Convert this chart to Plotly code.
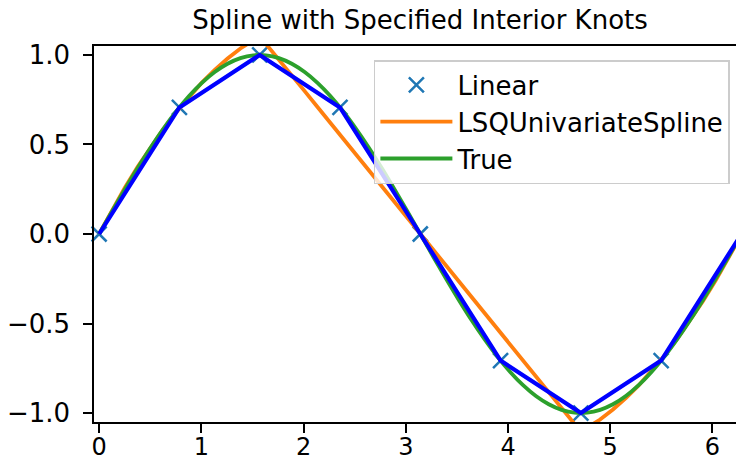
import plotly.graph_objects as go

# Sample points (linear interpolation)
x_pts = [0.0, 0.7854, 1.5708, 2.3562, 3.1416, 3.9270, 4.7124, 5.4978, 6.2832]
y_pts = [0.0, 0.7071, 1.0, 0.7071, 0.0, -0.7071, -1.0, -0.7071, 0.0]

# Fine grid for the smooth curves
x_fine = [0.0, 0.12566, 0.25133, 0.37699, 0.50265, 0.62832, 0.75398, 0.87965,
          1.00531, 1.13097, 1.25664, 1.38230, 1.50796, 1.63363, 1.75929, 1.88496,
          2.01062, 2.13628, 2.26195, 2.38761, 2.51327, 2.63894, 2.76460, 2.89027,
          3.01593, 3.14159, 3.26726, 3.39292, 3.51858, 3.64425, 3.76991, 3.89557,
          4.02124, 4.14690, 4.27257, 4.39823, 4.52389, 4.64956, 4.77522, 4.90088,
          5.02655, 5.15221, 5.27788, 5.40354, 5.52920, 5.65487, 5.78053, 5.90619,
          6.03186, 6.15752, 6.22035]

y_lsq = [0.0010, 0.13329, 0.25795, 0.37497, 0.48435, 0.58610, 0.68021, 0.76669,
         0.84553, 0.91673, 0.98031, 1.03624, 1.08115, 1.06019, 0.97525, 0.88660,
         0.79794, 0.70928, 0.62062, 0.53196, 0.44330, 0.35464, 0.26598, 0.17732,
         0.08866, 0.0, -0.08866, -0.17732, -0.26598, -0.35464, -0.44330, -0.53196,
         -0.62062, -0.70928, -0.79794, -0.88660, -0.97525, -1.06019, -1.08115, -1.03624,
         -0.98031, -0.91673, -0.84553, -0.76669, -0.68021, -0.58610, -0.48435, -0.37497,
         -0.25795, -0.13329, -0.06810]

y_true = [0.0, 0.12533, 0.24869, 0.36812, 0.48175, 0.58779, 0.68455, 0.77051,
          0.84433, 0.90483, 0.95106, 0.98229, 0.99803, 0.99803, 0.98229, 0.95106,
          0.90483, 0.84433, 0.77051, 0.68455, 0.58779, 0.48175, 0.36812, 0.24869,
          0.12533, 0.0, -0.12533, -0.24869, -0.36812, -0.48175, -0.58779, -0.68455,
          -0.77051, -0.84433, -0.90483, -0.95106, -0.98229, -0.99803, -0.99803, -0.98229,
          -0.95106, -0.90483, -0.84433, -0.77051, -0.68455, -0.58779, -0.48175, -0.36812,
          -0.24869, -0.12533, -0.06279]

x_ticks = [0, 1, 2, 3, 4, 5, 6]
y_ticks = [-1.0, -0.5, 0.0, 0.5, 1.0]
legend_names = ["Linear", "LSQUnivariateSpline", "True"]
title_text = "Spline with Specified Interior Knots"

FONT = "DejaVu Sans"
FS = 26

fig = go.Figure()
fig.add_trace(go.Scatter(
    x=x_pts, y=y_pts, mode="markers", name=legend_names[0],
    marker=dict(symbol="x-thin", size=15, line=dict(width=2.5, color="#1f77b4"), color="#1f77b4"),
    cliponaxis=False,
))
fig.add_trace(go.Scatter(
    x=x_fine, y=y_lsq, mode="lines", name=legend_names[1],
    line=dict(color="#ff7f0e", width=3.8),
))
fig.add_trace(go.Scatter(
    x=x_fine, y=y_true, mode="lines", name=legend_names[2],
    line=dict(color="#2ca02c", width=3.8, shape="spline"),
))
fig.add_trace(go.Scatter(
    x=x_pts, y=y_pts, mode="lines", showlegend=False,
    line=dict(color="#0000ff", width=4.2),
))

fig.update_layout(
    width=736, height=463,
    margin=dict(l=94, r=0, t=46, b=41, pad=0),
    paper_bgcolor="white", plot_bgcolor="white",
    font=dict(family=FONT, size=FS, color="black"),
    title=dict(text=title_text, x=(94 + 746) / 2 / 736, xanchor="center",
               y=1 - 20 / 463, yanchor="middle", yref="container",
               font=dict(family=FONT, size=FS, color="black")),
    legend=dict(x=(374 - 94.2) / 641.8, y=(422 - 60) / 376, xanchor="left", yanchor="top",
                bgcolor="rgba(255,255,255,0.8)", bordercolor="#cccccc", borderwidth=1.5,
                font=dict(family=FONT, size=FS, color="black"), itemwidth=72),
    showlegend=True,
)
fig.update_xaxes(
    range=[-0.05, 6.23], tickvals=x_ticks, ticktext=[str(v) for v in x_ticks],
    showgrid=False, zeroline=False, showline=True, linecolor="black", linewidth=2,
    mirror=True, ticks="outside", ticklen=8.7, tickwidth=2, tickcolor="black",
    ticklabelstandoff=-7, automargin=False,
    tickfont=dict(family=FONT, size=24, color="black"),
)
fig.update_yaxes(
    range=[-1.05, 1.05], tickvals=y_ticks, tickformat=".1f",
    showgrid=False, zeroline=False, showline=True, linecolor="black", linewidth=2,
    mirror=False, ticks="outside", ticklen=8.7, tickwidth=2, tickcolor="black",
    ticklabelstandoff=8, automargin=False,
)

fig.write_html("out.html", config={"displayModeBar": False},
               post_script="document.body.style.margin='0';document.body.style.overflow='hidden';")
